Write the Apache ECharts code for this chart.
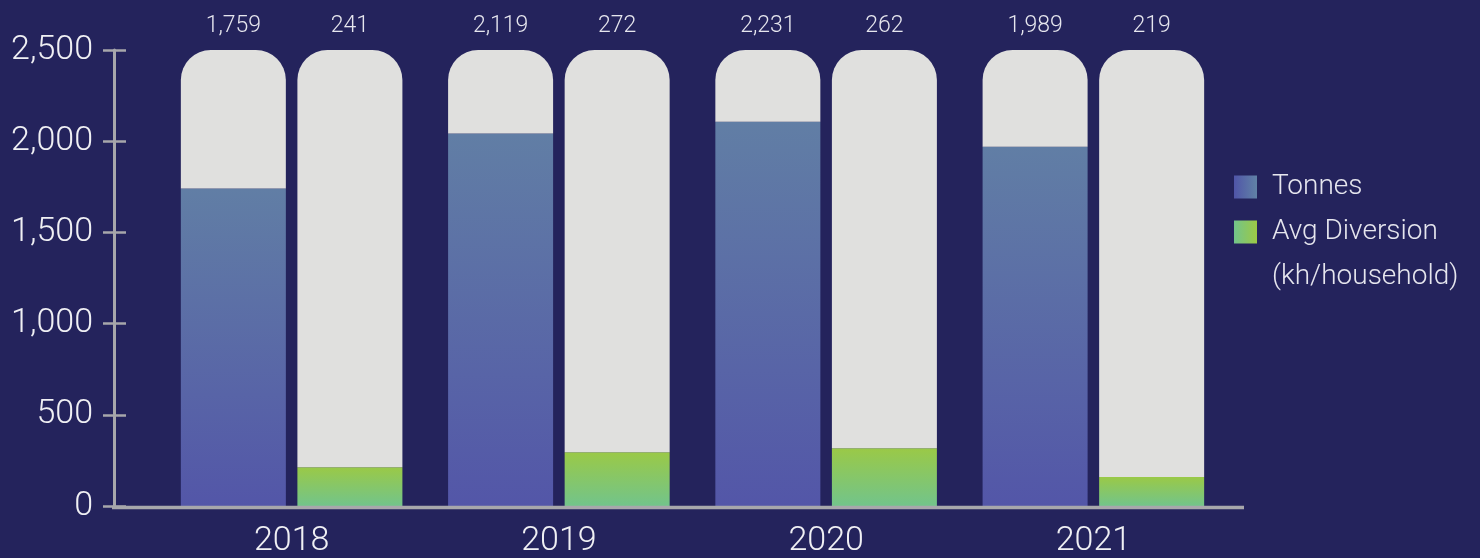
<!DOCTYPE html>
<html>
<head>
<meta charset="utf-8">
<script src="https://cdn.jsdelivr.net/npm/echarts@6/dist/echarts.min.js"></script>
<style>
html, body { margin: 0; padding: 0; background: #24235c; }
#chart { width: 1480px; height: 558px; }
</style>
</head>
<body>
<div id="chart"></div>
<script>
// 数据
var years = ['2018', '2019', '2020', '2021'];
var tonnes = [1740, 2042, 2106, 1969];          // bar heights as drawn
var avgDiversion = [213, 295, 317, 159];        // bar heights as drawn
var tonnesLabels = ['1,759', '2,119', '2,231', '1,989'];
var avgLabels = ['241', '272', '262', '219'];
var yMax = 2500;

var myChart = echarts.init(document.getElementById('chart'));

var font = 'Roboto, "Noto Sans", sans-serif';
var axisColor = '#a7a7ab';
var grayBar = '#e0e0de';

function vgrad(top, bottom) {
    return new echarts.graphic.LinearGradient(0, 0, 0, 1, [
        { offset: 0, color: top }, { offset: 1, color: bottom }
    ]);
}
function hgrad(left, right) {
    return new echarts.graphic.LinearGradient(0, 0, 1, 0, [
        { offset: 0, color: left }, { offset: 1, color: right }
    ]);
}

// 灰色剩余部分 = 上限 - 数值
var tonnesRest = tonnes.map(function (v) { return yMax - v; });
var avgRest = avgDiversion.map(function (v) { return yMax - v; });

function restLabel(labels) {
    return {
        show: true,
        position: 'top',
        distance: 12,
        color: '#e6e6ee',
        fontFamily: font,
        fontWeight: 300,
        fontSize: 23,
        formatter: function (p) { return labels[p.dataIndex]; }
    };
}

var option = {
    backgroundColor: '#24235c',
    animation: false,
    grid: { left: 158, right: 253, top: 50, bottom: 51 },
    legend: {
        orient: 'vertical',
        left: 1234,
        top: 170,
        padding: 0,
        itemWidth: 23,
        itemHeight: 23,
        itemGap: 11,
        icon: 'rect',
        textStyle: {
            color: '#e6e6ee', fontFamily: font, fontWeight: 300, fontSize: 28,
            lineHeight: 34, padding: [0, 0, 0, 10]
        },
        data: [
            { name: 'Tonnes', itemStyle: { color: hgrad('#5055a8', '#6182a6') } },
            { name: 'Avg Diversion', itemStyle: { color: hgrad('#72c48b', '#9cc945') } }
        ]
    },
    graphic: [
        {
            type: 'text', left: 1272, top: 263,
            style: { text: '(kh/household)', fill: '#e6e6ee', font: '300 28px ' + font }
        },
        {
            type: 'line', z: 5,
            shape: { x1: 112, y1: 507.5, x2: 1244, y2: 507.5 },
            style: { stroke: axisColor, lineWidth: 3.5 }
        }
    ],
    xAxis: {
        type: 'category',
        data: years,
        axisLine: { show: false },
        axisTick: { show: false },
        axisLabel: {
            color: '#f0f0f4', fontFamily: font, fontWeight: 300, fontSize: 34, margin: 18
        }
    },
    yAxis: [
        {
            type: 'value',
            min: 0, max: yMax, interval: 500,
            offset: 44,
            splitLine: { show: false },
            axisLine: { show: true, lineStyle: { color: axisColor, width: 3 } },
            axisTick: { show: true, length: 11, lineStyle: { color: axisColor, width: 2.5 } },
            axisLabel: {
                color: '#f0f0f4', fontFamily: font, fontWeight: 300, fontSize: 34, margin: 21,
                formatter: function (v) { return v.toLocaleString('en-US'); }
            }
        },
        {
            type: 'value',
            position: 'left',
            min: 0, max: yMax, interval: 500,
            offset: 44,
            splitLine: { show: false },
            axisLine: { show: false },
            axisTick: { show: true, inside: true, length: 12, lineStyle: { color: axisColor, width: 2.5 } },
            axisLabel: { show: false }
        }
    ],
    series: [
        {
            name: 'Tonnes', type: 'bar', stack: 't',
            barWidth: 105, barGap: '11%',
            itemStyle: { color: vgrad('#617ea5', '#5356a8') },
            data: tonnes
        },
        {
            name: 'tonnesRest', type: 'bar', stack: 't',
            itemStyle: { color: grayBar, borderRadius: [30, 30, 0, 0] },
            label: restLabel(tonnesLabels),
            data: tonnesRest
        },
        {
            name: 'Avg Diversion', type: 'bar', stack: 'a',
            barWidth: 105,
            itemStyle: { color: vgrad('#9ac947', '#72c48b') },
            data: avgDiversion
        },
        {
            name: 'avgRest', type: 'bar', stack: 'a',
            itemStyle: { color: grayBar, borderRadius: [30, 30, 0, 0] },
            label: restLabel(avgLabels),
            data: avgRest
        }
    ]
};

myChart.setOption(option);
</script>
</body>
</html>
